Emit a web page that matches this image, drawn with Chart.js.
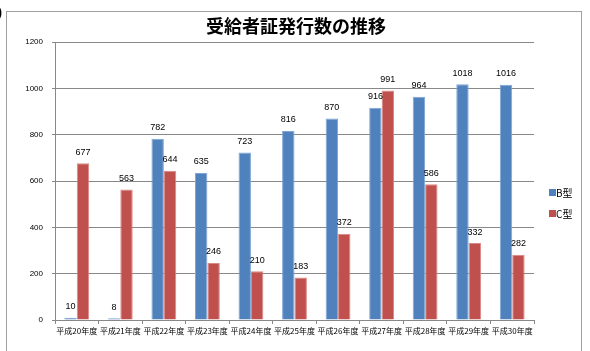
<!DOCTYPE html>
<html>
<head>
<meta charset="utf-8">
<script src="https://cdn.jsdelivr.net/npm/chart.js@4"></script>
<style>
  html, body { margin: 0; padding: 0; background: #fff; }
  #wrap { position: relative; width: 590px; height: 351px; overflow: hidden; }
  #frame { position: absolute; left: 6px; top: 11px; width: 576px; height: 360px; border: 1px solid #a0a0a0; box-sizing: border-box; }
  #paren { position: absolute; left: -2px; top: 5px; font: bold 12px "Liberation Sans", sans-serif; color: #000; z-index: 2; }
  canvas { position: absolute; left: 0; top: 0; }
</style>
</head>
<body>
<div id="wrap">
  <div id="frame"></div>
  <canvas id="chart" width="590" height="351"></canvas>
  <span id="paren">)</span>
</div>
<script>
var categories = ["平成20年度", "平成21年度", "平成22年度", "平成23年度", "平成24年度", "平成25年度",
  "平成26年度", "平成27年度", "平成28年度", "平成29年度", "平成30年度"];
var seriesB = [10, 8, 782, 635, 723, 816, 870, 916, 964, 1018, 1016];
var seriesC = [677, 563, 644, 246, 210, 183, 372, 991, 586, 332, 282];
var seriesNames = ["B型", "C型"];
var chartTitle = "受給者証発行数の推移";

var JP = '"Noto Sans CJK JP", "Noto Sans", sans-serif';

var valueLabels = {
  id: "valueLabels",
  afterDatasetsDraw: function (chart) {
    var ctx = chart.ctx;
    ctx.save();
    ctx.font = "9px 'Liberation Sans', sans-serif";
    ctx.fillStyle = "#000";
    ctx.textAlign = "center";
    ctx.textBaseline = "middle";
    chart.data.datasets.forEach(function (ds, i) {
      chart.getDatasetMeta(i).data.forEach(function (bar, j) {
        ctx.fillText(String(ds.data[j]), bar.x, bar.y - 11);
      });
    });
    ctx.restore();
  }
};

var titleAndLegend = {
  id: "titleAndLegend",
  afterDraw: function (chart) {
    var ctx = chart.ctx;
    ctx.save();
    ctx.font = "bold 18px " + JP;
    ctx.fillStyle = "#000";
    ctx.textAlign = "center";
    ctx.textBaseline = "middle";
    ctx.fillText(chartTitle, 296, 26);

    ctx.font = "10px " + JP;
    ctx.textAlign = "left";
    chart.data.datasets.forEach(function (ds, i) {
      var y = 193 + i * 21;
      ctx.fillStyle = ds.backgroundColor;
      ctx.fillRect(549, y - 4, 7, 7);
      ctx.fillStyle = "#000";
      ctx.fillText(seriesNames[i], 556, y);
    });
    ctx.restore();
  }
};

new Chart(document.getElementById("chart"), {
  type: "bar",
  data: {
    labels: categories,
    datasets: [
      { label: seriesNames[0], data: seriesB, backgroundColor: "#4F81BD", borderColor: "#7fa6d6", borderWidth: { left: 1, right: 1, top: 1, bottom: 0 } },
      { label: seriesNames[1], data: seriesC, backgroundColor: "#C0504D", borderColor: "#d98886", borderWidth: { left: 1, right: 1, top: 1, bottom: 0 } }
    ]
  },
  options: {
    responsive: false,
    animation: false,
    categoryPercentage: 0.57,
    barPercentage: 1.0,
    layout: { padding: { left: 10, top: 42, right: 56, bottom: 0 } },
    plugins: { legend: { display: false }, title: { display: false }, tooltip: { enabled: false } },
    scales: {
      x: {
        afterFit: function (s) { s.height = 31; },
        grid: { offset: true, drawOnChartArea: false, drawTicks: true, tickLength: 4, color: "#888" },
        border: { color: "#888" },
        ticks: { color: "#000", font: { size: 8, family: JP }, padding: 2, maxRotation: 0, autoSkip: false }
      },
      y: {
        min: 0,
        max: 1200,
        afterFit: function (s) { s.width = 45; },
        grid: { color: "#888", tickLength: 3 },
        border: { color: "#888" },
        ticks: {
          stepSize: 200, color: "#000", padding: 9,
          font: { size: 8, family: "'Liberation Sans', sans-serif" },
          callback: function (v) { return String(v); }
        }
      }
    }
  },
  plugins: [valueLabels, titleAndLegend]
});
</script>
</body>
</html>
